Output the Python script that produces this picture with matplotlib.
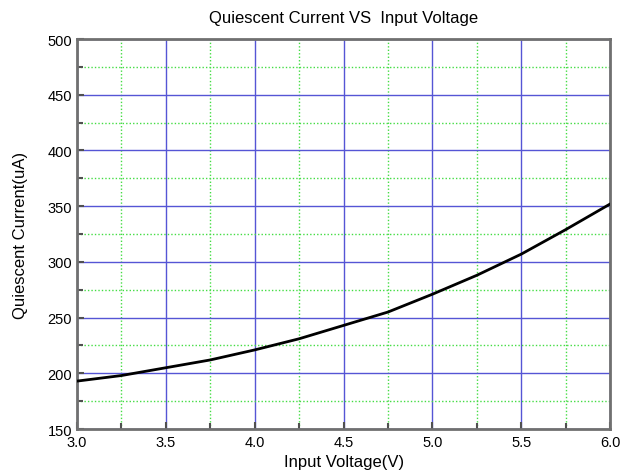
import numpy as np
import matplotlib.pyplot as plt
from matplotlib.ticker import MultipleLocator

plt.rcParams["font.family"] = ["Liberation Sans", "DejaVu Sans"]

# values
voltage = [3.0, 3.25, 3.5, 3.75, 4.0, 4.25, 4.5, 4.75, 5.0, 5.25, 5.5, 5.75, 6.0]
current = [193, 198, 205, 212, 221, 231, 243, 255, 271, 288, 307, 329, 352]

fig = plt.figure(figsize=(6.31, 4.77), dpi=100)
ax = fig.add_axes([0.122, 0.0985, 0.845, 0.8175])

ax.plot(voltage, current, color="black", lw=2.0, zorder=3)

ax.set_xlim(3.0, 6.0)
ax.set_ylim(150, 500)
ax.xaxis.set_major_locator(MultipleLocator(0.5))
ax.xaxis.set_minor_locator(MultipleLocator(0.25))
ax.yaxis.set_major_locator(MultipleLocator(50))
ax.yaxis.set_minor_locator(MultipleLocator(25))
ax.xaxis.set_major_formatter(plt.FormatStrFormatter("%.1f"))

ax.grid(which="major", color="#5555d5", lw=1.0, ls="-")
ax.grid(which="minor", color="#44dd44", lw=1.0, ls=(0, (1.0, 1.5)))
ax.set_axisbelow(True)

for s in ax.spines.values():
    s.set_color("#707070")
    s.set_linewidth(2.0)

ax.tick_params(which="both", direction="in", color="#505050", labelsize=10.5)
ax.tick_params(which="major", length=5, width=1.5)
ax.tick_params(which="minor", length=4, width=1.5)
ax.tick_params(axis="x", pad=4)

ax.set_title("Quiescent Current VS  Input Voltage", fontsize=12, pad=12)
ax.set_xlabel("Input Voltage(V)", fontsize=12, labelpad=4)
ax.set_ylabel("Quiescent Current(uA)", fontsize=12, labelpad=14)

fig.savefig("out.png", dpi=100)
